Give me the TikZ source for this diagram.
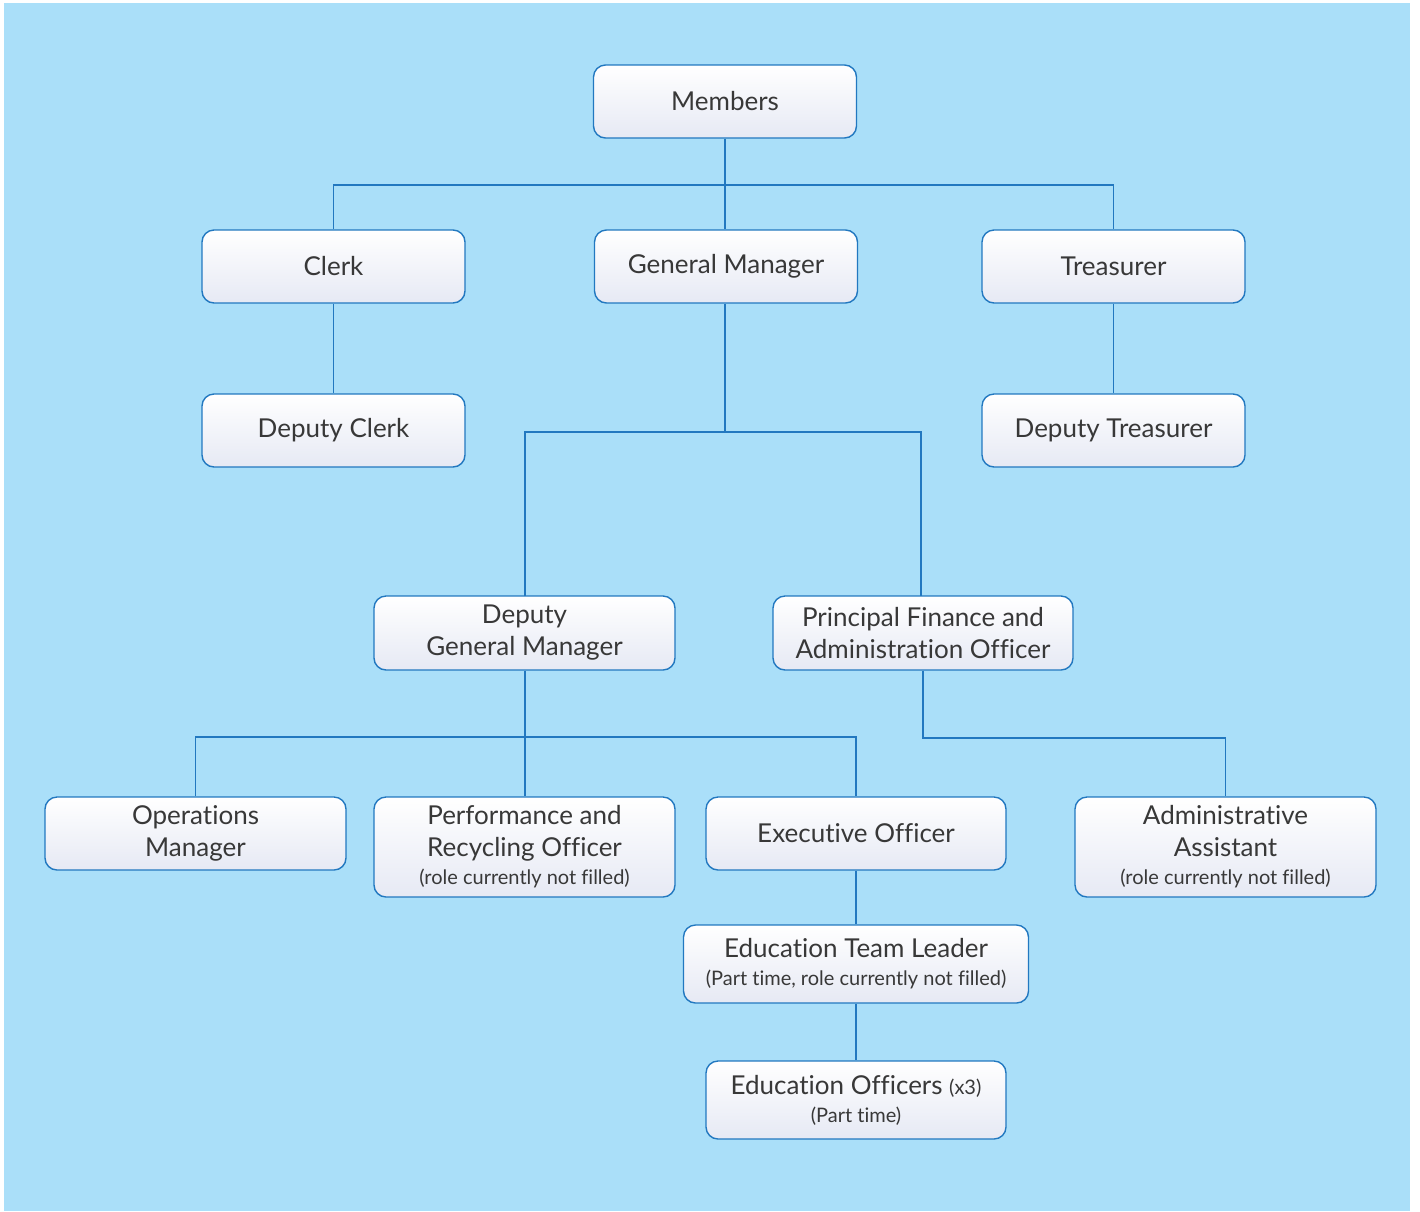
\documentclass[tikz,border=0pt]{standalone}
\usepackage{fontspec}
\setmainfont{Lato}[Ligatures=NoCommon]
\definecolor{bg}{HTML}{AADFF9}
\definecolor{edge}{HTML}{2278C0}
\definecolor{boxbot}{HTML}{E6E9F4}
\definecolor{txt}{HTML}{383838}
\tikzset{
  role/.style={draw=edge, line width=1.4pt, rounded corners=12pt, top color=white, bottom color=boxbot,
    minimum width=#1, inner sep=0pt, align=center, text=txt, font=\fontsize{26}{32}\selectfont},
  role/.default=263pt,
  link/.style={draw=edge, line width=1.3pt}
}
\newcommand{\smalltxt}[1]{{\fontsize{20}{26}\selectfont #1}}
\begin{document}
\begin{tikzpicture}[x=1pt,y=-1pt]
\useasboundingbox (0,0) rectangle (1420,1211);
\fill[white] (0,0) rectangle (1420,1211);
\fill[bg] (4,3) rectangle (1410,1211);
% nodes
\node[role, minimum height=73pt] (mem) at (725,101.5) {Members};
\node[role, minimum height=73pt] (clerk) at (333.5,266.5) {Clerk};
\node[role, minimum height=73pt] (gm) at (726,266.5) {General Manager};
\node[role, minimum height=73pt] (tre) at (1113.5,266.5) {Treasurer};
\node[role, minimum height=73pt] (dc) at (333.5,430.5) {Deputy Clerk};
\node[role, minimum height=73pt] (dt) at (1113.5,430.5) {Deputy Treasurer};
\node[role=301pt, minimum height=74pt] (dgm) at (524.5,633) {Deputy\\General Manager};
\node[role=300pt, minimum height=74pt] (pfao) at (923,633) {Principal Finance and\\Administration Officer};
\node[role=301pt, minimum height=73pt] (ops) at (195.5,833.5) {Operations\\Manager};
\node[role=301pt, minimum height=100pt] (perf) at (524.5,847) {Performance and\\Recycling Officer\\[-4pt]\smalltxt{(role currently not filled)}};
\node[role=300pt, minimum height=73pt] (exec) at (856,833.5) {Executive Officer};
\node[role=301pt, minimum height=100pt] (adm) at (1225.5,847) {Administrative\\Assistant\\[-4pt]\smalltxt{(role currently not filled)}};
\node[role=345pt, minimum height=78pt] (etl) at (856,964) {Education Team Leader\\[-4pt]\smalltxt{(Part time, role currently not filled)}};
\node[role=300pt, minimum height=78pt] (eo) at (856,1100) {Education Officers \smalltxt{(x3)}\\[-4pt]\smalltxt{(Part time)}};
% connectors
\coordinate (j1) at (725,185);
\draw[link] (mem.south) -- (j1);
\draw[link] (clerk.north) |- (j1) -| (tre.north);
\draw[link] (j1) -- (mem.south |- gm.north);
\draw[link] (clerk) -- (dc);
\draw[link] (tre) -- (dt);
\coordinate (j2) at (725,432);
\draw[link] (j2 |- gm.south) -- (j2);
\draw[link] (525,596) |- (j2) -| (921,596);
\coordinate (j3) at (525,737);
\draw[link] (j3 |- dgm.south) -- (j3);
\draw[link] (ops.north) |- (j3) -| (exec.north);
\draw[link] (j3) -- (j3 |- perf.north);
\coordinate (j4) at (923,738);
\draw[link] (pfao.south) -- (j4) -| (adm.north);
\draw[link] (exec.south) -- (etl.north);
\draw[link] (etl.south) -- (eo.north);
\end{tikzpicture}
\end{document}
